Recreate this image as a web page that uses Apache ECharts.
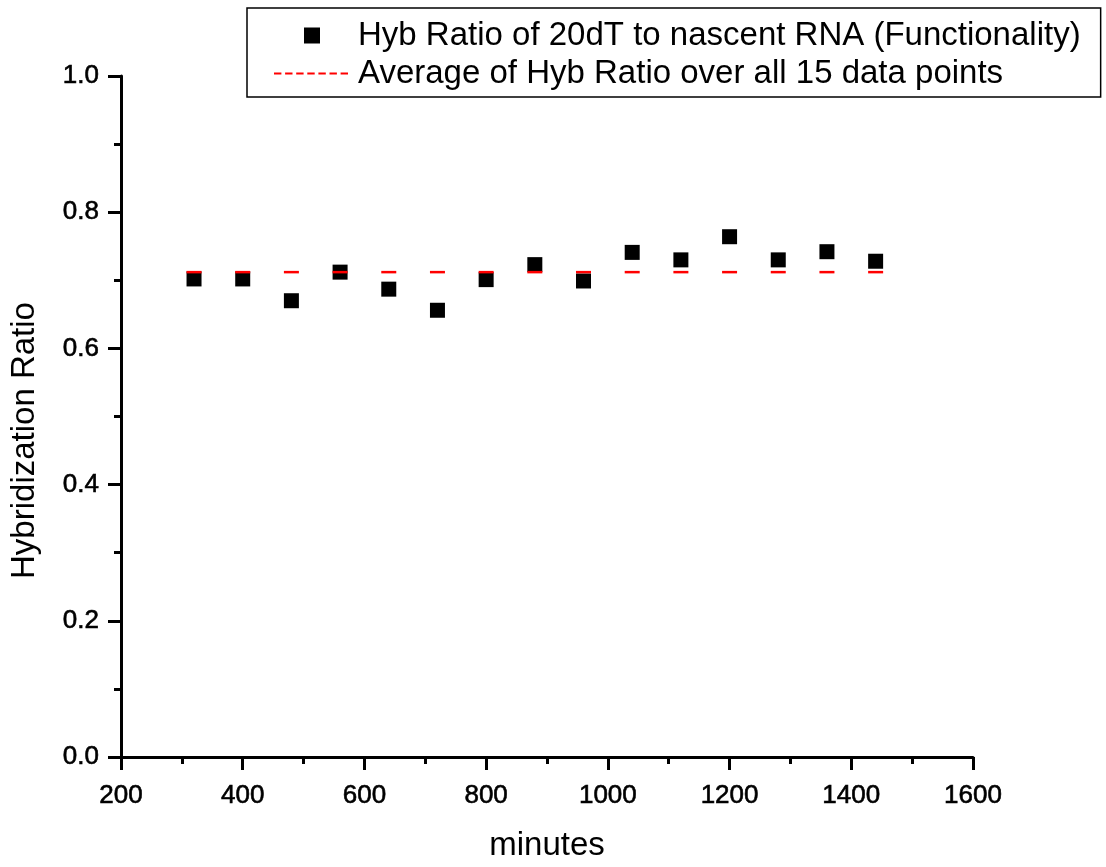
<!DOCTYPE html>
<html>
<head>
<meta charset="utf-8">
<script src="https://cdn.jsdelivr.net/npm/echarts@6/dist/echarts.min.js"></script>
<style>
html,body{margin:0;padding:0;background:#fff;}
#chart{width:1106px;height:867px;}
</style>
</head>
<body>
<div id="chart"></div>
<script>
// Data
var minutes = [320, 400, 480, 560, 640, 720, 800, 880, 960, 1040, 1120, 1200, 1280, 1360, 1440];
var hybRatio = [0.702, 0.702, 0.670, 0.712, 0.687, 0.656, 0.701, 0.723, 0.699, 0.741, 0.730, 0.764, 0.730, 0.742, 0.728];
var averageRatio = 0.712;
var seriesNames = ['Hyb Ratio of 20dT to nascent RNA (Functionality)', 'Average of Hyb Ratio over all 15 data points'];
var xTicks = [200, 400, 600, 800, 1000, 1200, 1400, 1600];
var yTicks = [0.0, 0.2, 0.4, 0.6, 0.8, 1.0];

var FONT = '"Liberation Sans", Arial, sans-serif';

var scatterData = minutes.map(function (m, i) { return [m, hybRatio[i]]; });
var avgData = minutes.map(function (m) { return [m, averageRatio]; });

var squareIcon = 'path://M0,0L0.01,0L0,0.01Z M31,0h16v16h-16Z M80,16L79.99,16L80,15.99Z';
var dashIcon = 'path://M0,0L0.01,0L0,0.01Z M1,7h7.4v2h-7.4Z M12.1,7h7.4v2h-7.4Z M23.2,7h7.4v2h-7.4Z M34.3,7h7.4v2h-7.4Z M45.4,7h7.4v2h-7.4Z M56.5,7h7.4v2h-7.4Z M67.6,7h7.4v2h-7.4Z M80,16L79.99,16L80,15.99Z';

var chart = echarts.init(document.getElementById('chart'), null, {renderer: 'canvas'});
chart.setOption({
  backgroundColor: '#ffffff',
  animation: false,
  grid: {left: 120, right: 133, top: 76, bottom: 107, containLabel: false},
  legend: {
    orient: 'vertical',
    left: 247,
    top: 8,
    padding: [11, 20, 7, 26],
    borderColor: '#000',
    borderWidth: 1.5,
    itemWidth: 80,
    itemHeight: 16,
    itemGap: 5,
    selectedMode: false,
    textStyle: {fontFamily: FONT, fontSize: 33, color: '#000', lineHeight: 33},
    data: [
      {name: seriesNames[0], icon: squareIcon},
      {name: seriesNames[1], icon: dashIcon}
    ]
  },
  xAxis: {
    type: 'value',
    min: xTicks[0],
    max: xTicks[xTicks.length - 1],
    interval: 200,
    name: 'minutes',
    nameLocation: 'middle',
    nameGap: 72,
    nameTextStyle: {fontFamily: FONT, fontSize: 33, color: '#000'},
    axisLine: {show: true, onZero: false, lineStyle: {color: '#000', width: 3}},
    axisTick: {show: true, inside: false, length: 13, lineStyle: {color: '#000', width: 3}},
    minorTick: {show: true, splitNumber: 2, length: 7, lineStyle: {color: '#000', width: 3}},
    splitLine: {show: false},
    axisLabel: {fontFamily: FONT, fontSize: 26, color: '#000', margin: 26,
      textBorderColor: '#000', textBorderWidth: 0.6,
      formatter: function (v) { return String(v); }}
  },
  yAxis: {
    type: 'value',
    min: yTicks[0],
    max: yTicks[yTicks.length - 1],
    interval: 0.2,
    name: 'Hybridization Ratio',
    nameLocation: 'middle',
    nameGap: 80,
    nameRotate: 90,
    nameTextStyle: {fontFamily: FONT, fontSize: 33, color: '#000', padding: [0, 48, 0, 0]},
    axisLine: {show: true, onZero: false, lineStyle: {color: '#000', width: 3}},
    axisTick: {show: true, inside: false, length: 13, lineStyle: {color: '#000', width: 3}},
    minorTick: {show: true, splitNumber: 2, length: 7, lineStyle: {color: '#000', width: 3}},
    splitLine: {show: false},
    axisLabel: {fontFamily: FONT, fontSize: 26, color: '#000', margin: 22,
      textBorderColor: '#000', textBorderWidth: 0.6,
      formatter: function (v) { return v.toFixed(1); }}
  },
  series: [
    {
      name: seriesNames[0],
      type: 'scatter',
      symbol: 'rect',
      symbolSize: 15,
      itemStyle: {color: '#000', opacity: 1},
      data: scatterData,
      z: 2
    },
    {
      name: seriesNames[1],
      type: 'scatter',
      symbol: 'rect',
      symbolSize: [15, 2.5],
      itemStyle: {color: '#ff0000', opacity: 1},
      data: avgData,
      z: 3
    }
  ]
});
</script>
</body>
</html>
